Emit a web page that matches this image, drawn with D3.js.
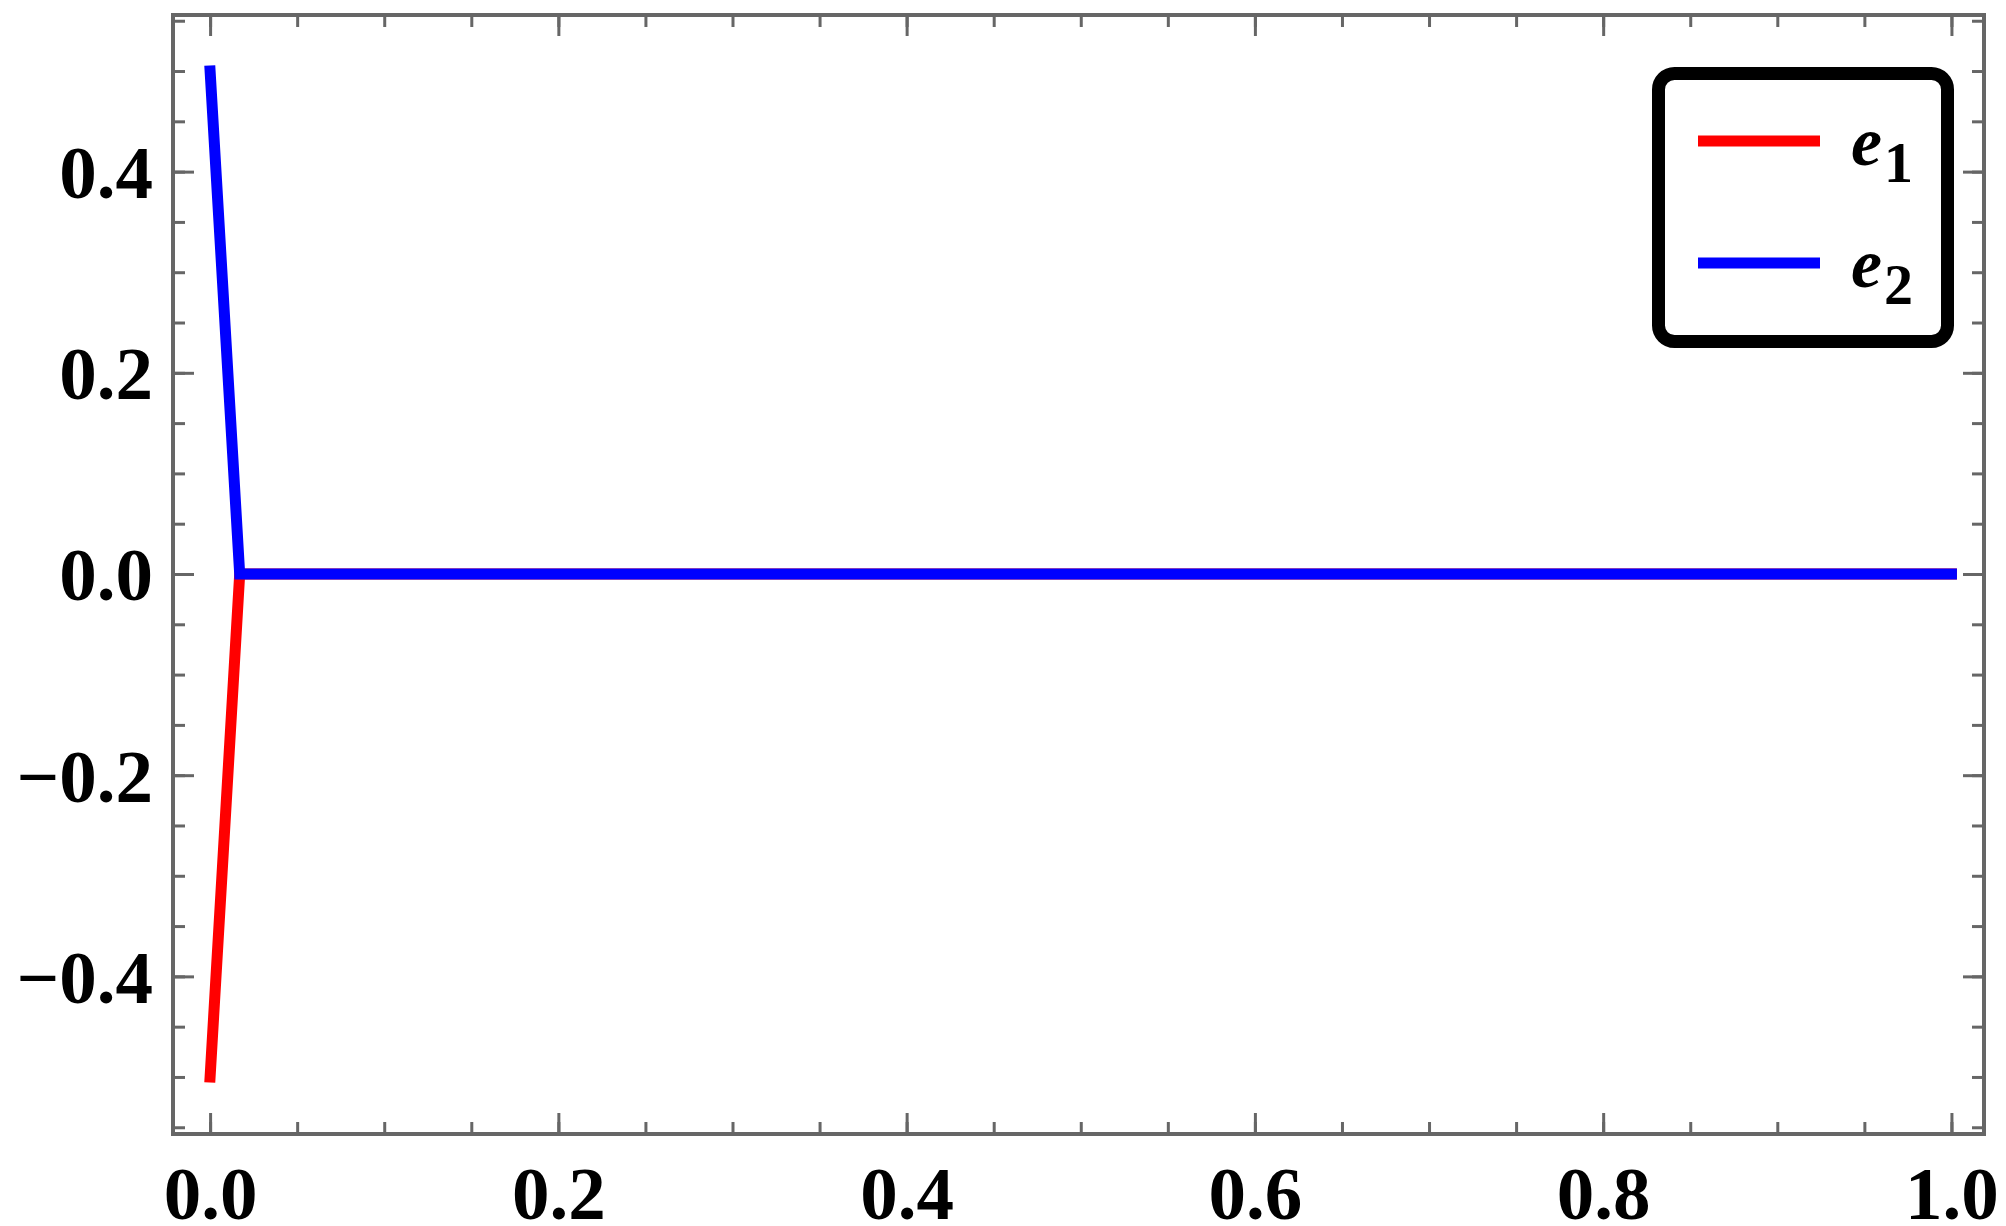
<!DOCTYPE html>
<html>
<head>
<meta charset="utf-8">
<script src="https://cdn.jsdelivr.net/npm/d3@7"></script>
<style>
  body { margin: 0; background: #fff; }
  svg { display: block; }
</style>
</head>
<body>
<div id="chart"></div>
<script>
// data
var tValues = [0, 0.017, 1];
var e1Values = [-0.5, 0, 0];
var e2Values = [0.5, 0, 0];
var seriesNames = ["1", "2"];
var seriesColors = ["#ff0000", "#0000ff"];

var svgWidth = 2006;
var svgHeight = 1226;

var frame = { left: 173, right: 1984, top: 15, bottom: 1134 };

var svg = d3.select("#chart")
  .append("svg")
  .attr("width", svgWidth)
  .attr("height", svgHeight);

var xScale = d3.scaleLinear()
  .domain([-0.0213, 1.0187])
  .range([frame.left, frame.right]);

var yScale = d3.scaleLinear()
  .domain([-0.5567, 0.5557])
  .range([frame.bottom, frame.top]);

var fmt = d3.format(".1f");
var tickColor = "#666666";

function styleAxis(g) {
  g.select(".domain").remove();
  g.selectAll(".tick line")
    .attr("stroke", tickColor)
    .attr("stroke-width", 3);
}

// minor ticks, all four sides
var xMinor = xScale.ticks(20);
var yMinor = yScale.ticks(20);
var xMajor = xScale.ticks(5);
var yMajor = yScale.ticks(5);

svg.append("g")
  .attr("transform", `translate(0,${frame.bottom})`)
  .call(d3.axisBottom(xScale).tickValues(xMinor).tickSize(-12).tickFormat(""))
  .call(styleAxis);
svg.append("g")
  .attr("transform", `translate(0,${frame.top})`)
  .call(d3.axisTop(xScale).tickValues(xMinor).tickSize(-12).tickFormat(""))
  .call(styleAxis);
svg.append("g")
  .attr("transform", `translate(${frame.left},0)`)
  .call(d3.axisLeft(yScale).tickValues(yMinor).tickSize(-12).tickFormat(""))
  .call(styleAxis);
svg.append("g")
  .attr("transform", `translate(${frame.right},0)`)
  .call(d3.axisRight(yScale).tickValues(yMinor).tickSize(-12).tickFormat(""))
  .call(styleAxis);

// major ticks
var xAxisG = svg.append("g")
  .attr("transform", `translate(0,${frame.bottom})`)
  .call(d3.axisBottom(xScale).tickValues(xMajor).tickSize(-21).tickFormat(fmt))
  .call(styleAxis);
svg.append("g")
  .attr("transform", `translate(0,${frame.top})`)
  .call(d3.axisTop(xScale).tickValues(xMajor).tickSize(-21).tickFormat(""))
  .call(styleAxis);
var yAxisG = svg.append("g")
  .attr("transform", `translate(${frame.left},0)`)
  .call(d3.axisLeft(yScale).tickValues(yMajor).tickSize(-21).tickFormat(fmt))
  .call(styleAxis);
svg.append("g")
  .attr("transform", `translate(${frame.right},0)`)
  .call(d3.axisRight(yScale).tickValues(yMajor).tickSize(-21).tickFormat(""))
  .call(styleAxis);

xAxisG.selectAll(".tick text")
  .attr("y", 85)
  .attr("dy", null)
  .attr("fill", "#000")
  .attr("text-anchor", "middle")
  .style("font-family", "'Liberation Serif', 'Times New Roman', serif")
  .style("font-weight", "bold")
  .style("font-size", "75px");

yAxisG.selectAll(".tick text")
  .attr("x", -20)
  .attr("dy", "26px")
  .attr("fill", "#000")
  .attr("text-anchor", "end")
  .style("font-family", "'Liberation Serif', 'Times New Roman', serif")
  .style("font-weight", "bold")
  .style("font-size", "75px");

// frame
svg.append("rect")
  .attr("x", frame.left)
  .attr("y", frame.top)
  .attr("width", frame.right - frame.left)
  .attr("height", frame.bottom - frame.top)
  .attr("fill", "none")
  .attr("stroke", tickColor)
  .attr("stroke-width", 4);

// series
var series = [e1Values, e2Values];
var line = d3.line()
  .x((d, i) => xScale(tValues[i]))
  .y(d => yScale(d));

svg.selectAll("path.series")
  .data(series)
  .enter()
  .append("path")
  .attr("class", "series")
  .attr("d", d => line(d))
  .attr("fill", "none")
  .attr("stroke", (d, i) => seriesColors[i])
  .attr("stroke-width", 11)
  .attr("stroke-linecap", "square")
  .attr("stroke-linejoin", "miter");

// legend
var legend = svg.append("g");
legend.append("rect")
  .attr("x", 1658.5)
  .attr("y", 73.5)
  .attr("width", 289)
  .attr("height", 268)
  .attr("rx", 16)
  .attr("fill", "#fff")
  .attr("stroke", "#000")
  .attr("stroke-width", 13);

var items = legend.selectAll("g.item")
  .data(seriesNames)
  .enter()
  .append("g")
  .attr("class", "item")
  .attr("transform", (d, i) => `translate(0,${141 + i * 122})`);

items.append("line")
  .attr("x1", 1698)
  .attr("x2", 1820)
  .attr("stroke", (d, i) => seriesColors[i])
  .attr("stroke-width", 11);

var label = items.append("text")
  .attr("x", 1851)
  .attr("y", 24)
  .attr("fill", "#000")
  .style("font-family", "'Liberation Serif', 'Times New Roman', serif");

label.append("tspan")
  .style("font-style", "italic")
  .style("font-weight", "bold")
  .style("font-size", "70px")
  .text("e");
label.append("tspan")
  .attr("dx", 2)
  .attr("dy", 17)
  .style("font-weight", "bold")
  .style("font-size", "58px")
  .text(d => d);
</script>
</body>
</html>
